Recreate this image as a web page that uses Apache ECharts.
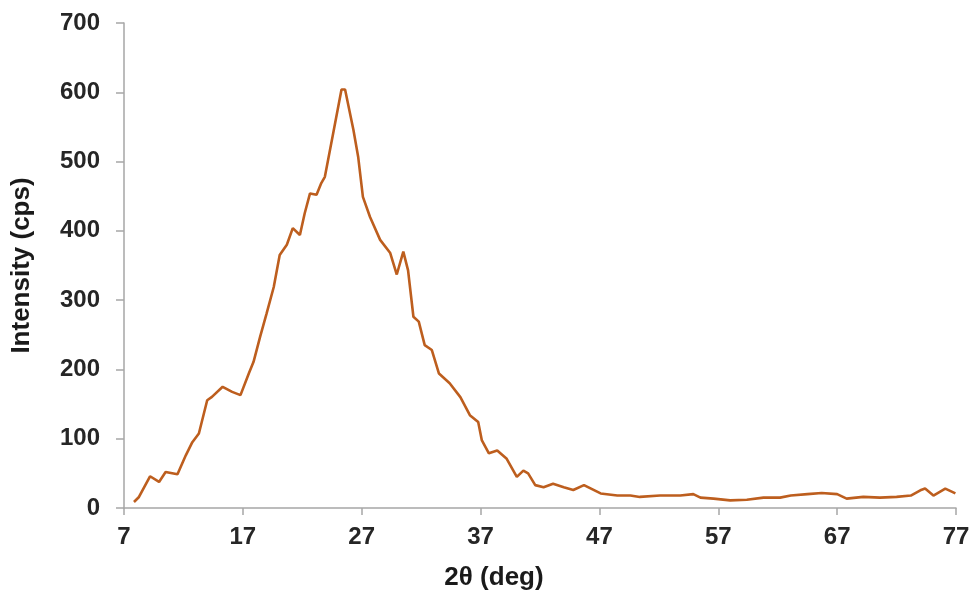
<!DOCTYPE html>
<html>
<head>
<meta charset="utf-8">
<script src="https://cdn.jsdelivr.net/npm/echarts@6/dist/echarts.min.js"></script>
<style>
html,body{margin:0;padding:0;background:#fff;}
#chart{width:974px;height:599px;}
</style>
</head>
<body>
<div id="chart"></div>
<script>
var xTicks = [7, 17, 27, 37, 47, 57, 67, 77];
var yTicks = [0, 100, 200, 300, 400, 500, 600, 700];
var twoTheta = [7.84, 8.26, 9.19, 9.95, 10.5, 11.5, 12.2, 12.75, 13.3, 14.0, 14.4, 15.3, 16.1, 16.8, 17.5, 17.9,
  18.45, 19.0, 19.6, 20.1, 20.7, 21.2, 21.8, 22.2, 22.65, 23.2, 23.6, 23.9, 24.6, 25.3, 25.6, 26.3, 26.7,
  27.1, 27.7, 28.55, 29.4, 29.95, 30.5, 30.9, 31.35, 31.8, 32.3, 32.9, 33.5, 34.4, 35.3, 36.1, 36.8,
  37.1, 37.7, 38.4, 39.2, 40.05, 40.6, 41.0, 41.6, 42.3, 43.1, 44.0, 44.8, 45.7, 47.1, 48.5, 49.6, 50.4,
  52.1, 53.8, 54.9, 55.5, 56.6, 58.0, 59.4, 60.8, 62.2, 63.1, 64.5, 65.7, 67.0, 67.8, 69.2, 70.6, 72.0,
  73.2, 74.0, 74.4, 75.1, 76.1, 76.95];
var intensity = [8.7, 15.9, 45.8, 37.6, 52, 48.7, 76, 95, 107.5, 155.6, 160.4, 174.9, 167.6, 162.9, 194, 211,
  247, 281, 319, 365, 380, 404, 394, 425, 454, 452, 469, 478, 541, 604, 604, 546, 507,
  449, 420, 387, 368, 337, 370, 343, 276, 269, 235, 228, 194, 180, 160, 134, 124,
  98, 79, 83, 71, 45, 54, 50, 33, 30, 35, 30, 26, 33, 21, 18, 18, 16,
  18, 18, 20, 15, 13.5, 11, 12, 15, 15, 18, 20, 21.7, 20, 13.5, 16, 15, 16,
  18, 25.6, 28, 18, 28, 21];

var chart = echarts.init(document.getElementById('chart'), null, {renderer: 'canvas'});
var fontFam = 'Liberation Sans, Arial, sans-serif';
var labelStyle = {color: '#262626', fontFamily: fontFam, fontWeight: 'bold', fontSize: 24};
var nameStyle = {color: '#1a1a1a', fontFamily: fontFam, fontWeight: 'bold', fontSize: 26};
chart.setOption({
  animation: false,
  backgroundColor: '#ffffff',
  grid: {left: 124, right: 18, top: 23, bottom: 91, containLabel: false},
  xAxis: {
    type: 'value', min: xTicks[0], max: xTicks[xTicks.length - 1], interval: 10,
    name: '2θ (deg)', nameLocation: 'middle', nameGap: 57,
    nameTextStyle: Object.assign({}, nameStyle, {padding: [0, 92, 0, 0]}),
    axisLine: {lineStyle: {color: '#a6a6a6', width: 1.5}},
    axisTick: {show: true, inside: false, length: 7, lineStyle: {color: '#a6a6a6', width: 1.5}},
    axisLabel: Object.assign({}, labelStyle, {margin: 17}),
    splitLine: {show: false}
  },
  yAxis: {
    type: 'value', min: yTicks[0], max: yTicks[yTicks.length - 1], interval: 100,
    name: 'Intensity (cps)', nameLocation: 'middle', nameGap: 89, nameRotate: 90,
    nameTextStyle: nameStyle,
    axisLine: {show: true, lineStyle: {color: '#a6a6a6', width: 1.5}},
    axisTick: {show: true, inside: false, length: 8, lineStyle: {color: '#a6a6a6', width: 1.5}},
    axisLabel: Object.assign({}, labelStyle, {margin: 24}),
    splitLine: {show: false}
  },
  series: [{
    type: 'line',
    data: twoTheta.map(function (x, i) { return [x, intensity[i]]; }),
    showSymbol: false,
    smooth: false,
    lineStyle: {color: '#bd5e1e', width: 2.6}
  }]
});
</script>
</body>
</html>
